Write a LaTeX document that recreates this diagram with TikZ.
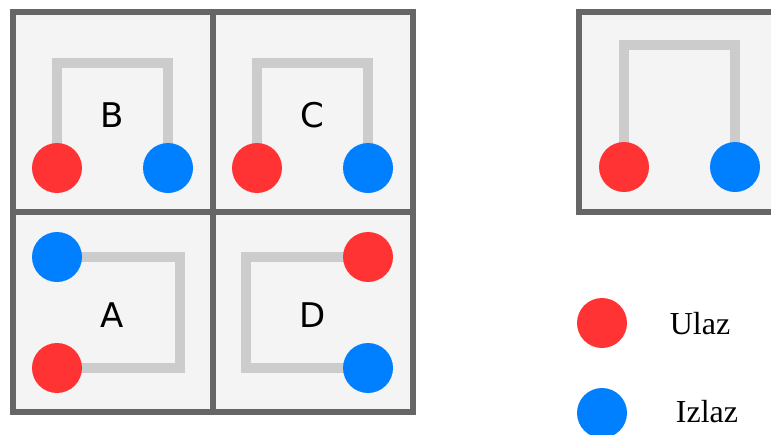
\documentclass[tikz,border=0pt]{standalone}
\usepackage{fontspec}
\usetikzlibrary{calc}
\newfontfamily\letterfont{DejaVu Sans}
\newfontfamily\keyfont{Liberation Serif}
\definecolor{inred}{HTML}{FF3333}
\definecolor{outblue}{HTML}{0080FF}
\definecolor{pipegray}{HTML}{CCCCCC}
\definecolor{cellgray}{HTML}{F4F4F4}
\definecolor{wallgray}{HTML}{666666}
\pgfdeclarelayer{back}
\pgfdeclarelayer{mid}
\pgfsetlayers{back,mid,main}

\begin{document}
\begin{tikzpicture}[x=1pt,y=-1pt,
    wall/.style={draw=wallgray,line width=6pt},
    pipe/.style={draw=pipegray,line width=10pt},
    inlet/.style={circle,fill=inred,minimum size=50pt,inner sep=0pt},
    outlet/.style={circle,fill=outblue,minimum size=50pt,inner sep=0pt},
    letter/.style={font=\letterfont\fontsize{34}{36}\selectfont},
    keytext/.style={font=\keyfont\fontsize{32}{36}\selectfont}]
    \useasboundingbox (0,0) rectangle (771,434);

    \begin{pgfonlayer}{back}
      \fill[cellgray] (13,12) rectangle (413,412);
      \draw[wall] (13,12) rectangle (413,412);
      \draw[wall] (213,12) -- (213,412) (13,212) -- (413,212);
      \fill[cellgray] (579,12) rectangle (779,212);
      \draw[wall] (579,12) rectangle (779,212);
    \end{pgfonlayer}

    % B
    \node[inlet] (b-in) at (57,168) {};
    \node[outlet] (b-out) at (168,168) {};
    \node[letter] (b) at (112,115) {B};
    % C
    \node[inlet] (c-in) at (257,168) {};
    \node[outlet] (c-out) at (368,168) {};
    \node[letter] (c) at (312,115) {C};
    % A
    \node[outlet] (a-out) at (57,257) {};
    \node[inlet] (a-in) at (57,368) {};
    \node[letter] (a) at (112,315) {A};
    % D
    \node[inlet] (d-in) at (368,257) {};
    \node[outlet] (d-out) at (368,368) {};
    \node[letter] (d) at (313,315) {D};
    % right box
    \node[inlet] (r-in) at (624,167) {};
    \node[outlet] (r-out) at (735,167) {};

    \begin{pgfonlayer}{mid}
      \draw[pipe] (b-in.center) -- ++(0,-105) -| (b-out.center);
      \draw[pipe] (c-in.center) -- ++(0,-105) -| (c-out.center);
      \draw[pipe] (a-out.center) -- ++(123,0) |- (a-in.center);
      \draw[pipe] (d-in.center) -- ++(-122,0) |- (d-out.center);
      \draw[pipe] (r-in.center) -- ++(0,-122) -| (r-out.center);
    \end{pgfonlayer}

    % legend
    \node[inlet] (key-in) at (602,323) {};
    \node[keytext] (key-in-text) at (700,324) {Ulaz};
    \node[outlet] (key-out) at (602,413) {};
    \node[keytext] (key-out-text) at (707,412) {Izlaz};
\end{tikzpicture}
\end{document}
